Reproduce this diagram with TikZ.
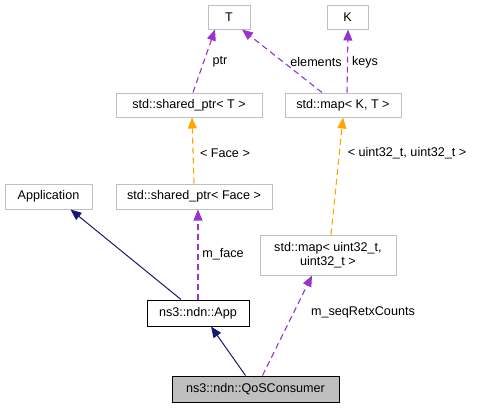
\documentclass[tikz,border=0pt]{standalone}
\usepackage{fontspec}
\setmainfont{Liberation Sans}
\usetikzlibrary{arrows.meta}
\definecolor{edgenavy}{HTML}{191970}
\definecolor{edgepurple}{HTML}{9A32CD}
\definecolor{edgeorange}{HTML}{FFA500}
\definecolor{boxgray}{HTML}{BFBFBF}
\begin{document}
\begin{tikzpicture}[x=1pt,y=-1pt,
  font=\fontsize{12.6}{14.5}\selectfont,
  cls/.style={draw=boxgray, fill=white, line width=1pt, inner sep=0pt, align=center},
  mainbox/.style={draw=black, line width=1pt, inner sep=0pt},
  inherit/.style={draw=edgenavy, line width=1pt, -{Triangle[length=11pt,width=9pt,fill=edgenavy]}},
  usage/.style={draw=edgepurple, line width=1.1pt, dash pattern=on 6pt off 4pt, -{Triangle[length=11pt,width=9pt,fill=edgepurple]}},
  templ/.style={draw=edgeorange, line width=1.1pt, dash pattern=on 6pt off 4pt, -{Triangle[length=11pt,width=9pt,fill=edgeorange]}},
  lbl/.style={inner sep=0pt}
]
\useasboundingbox (0,0) rectangle (478,408);
\node[cls, minimum width=42pt, minimum height=24pt] (T) at (229,17) {T};
\node[cls, minimum width=41pt, minimum height=24pt] (K) at (347.5,17) {K};
\node[cls, minimum width=146pt, minimum height=24pt] (spT) at (189,105) {std::shared\_ptr< T >};
\node[cls, minimum width=116pt, minimum height=24pt] (mapKT) at (343,105) {std::map< K, T >};
\node[cls, minimum width=87pt, minimum height=25pt] (application) at (48.5,196.5) {Application};
\node[cls, minimum width=156pt, minimum height=25pt] (spface) at (194,196.5) {std::shared\_ptr< Face >};
\node[cls, minimum width=136pt, minimum height=40pt] (mapu) at (328,255) {std::map< uint32\_t,\\uint32\_t >};
\node[mainbox, fill=white, minimum width=102pt, minimum height=26pt] (app) at (198,313) {ns3::ndn::App};
\node[mainbox, fill=boxgray, minimum width=167pt, minimum height=26pt] (qos) at (255.5,389) {ns3::ndn::QoSConsumer};

\draw[inherit] ([xshift=-17pt]app.north) -- ([xshift=22pt]application.south);
\draw[inherit] ([xshift=-10pt]qos.north) -- ([xshift=13pt]app.south);
\draw[usage] (app.north) -- ([xshift=4pt]spface.south);
\draw[usage] ([xshift=7pt]qos.north) -- ([xshift=-16pt]mapu.south);
\draw[templ] (spface.north) -- ([xshift=3pt]spT.south);
\draw[templ] ([xshift=3pt]mapu.north) -- (mapKT.south);
\draw[usage] ([xshift=4pt]spT.north) -- ([xshift=-14pt]T.south);
\draw[usage] ([xshift=-21pt]mapKT.north) -- ([xshift=13pt]T.south);
\draw[usage] ([xshift=4pt]mapKT.north) -- ([xshift=0.5pt]K.south);

\node[lbl] (lptr) at (220,62) {ptr};
\node[lbl] (lelem) at (316,62) {elements};
\node[lbl] (lkeys) at (365,62) {keys};
\node[lbl] (lface) at (225,153) {< Face >};
\node[lbl] (luint) at (407,153) {< uint32\_t, uint32\_t >};
\node[lbl] (lmface) at (223,254) {m\_face};
\node[lbl] (lseq) at (363,312) {m\_seqRetxCounts};
\end{tikzpicture}
\end{document}
